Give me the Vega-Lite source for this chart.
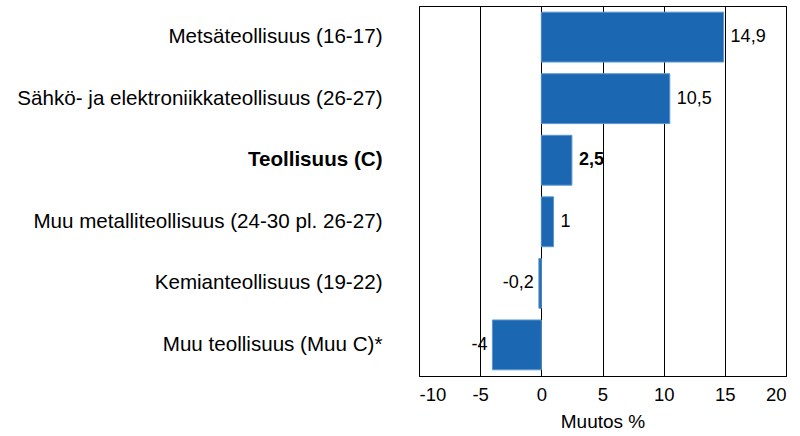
{
  "$schema": "https://vega.github.io/schema/vega-lite/v6.json",
  "autosize": "none",
  "width": 367,
  "height": 370,
  "padding": {"left": 419, "top": 6, "right": 14, "bottom": 60},
  "background": "white",
  "config": {
    "font": "Liberation Sans",
    "view": {"stroke": "black", "strokeWidth": 1},
    "locale": {"number": {"decimal": ",", "thousands": " ", "grouping": [3], "currency": ["", " €"], "minus": "-"}}
  },
  "data": {
    "values": [
      {"cat": "Metsäteollisuus (16-17)", "v": 14.9, "label": "14,9"},
      {"cat": "Sähkö- ja elektroniikkateollisuus (26-27)", "v": 10.5, "label": "10,5"},
      {"cat": "Teollisuus (C)", "v": 2.5, "label": "2,5"},
      {"cat": "Muu metalliteollisuus (24-30 pl. 26-27)", "v": 1, "label": "1"},
      {"cat": "Kemianteollisuus (19-22)", "v": -0.2, "label": "-0,2"},
      {"cat": "Muu teollisuus (Muu C)*", "v": -4, "label": "-4"}
    ]
  },
  "encoding": {
    "y": {
      "field": "cat", "type": "nominal", "sort": null,
      "scale": {"paddingInner": 0.19, "paddingOuter": 0.1},
      "axis": {
        "title": null, "domain": false, "ticks": false, "grid": false,
        "labelPadding": 37, "labelFontSize": 20.6, "labelColor": "black", "labelLimit": 420,
        "labelFontWeight": {"condition": {"test": "datum.value === 'Teollisuus (C)'", "value": "bold"}, "value": "normal"}
      }
    },
    "x": {
      "field": "v", "type": "quantitative",
      "scale": {"domain": [-10, 20], "nice": false, "zero": false},
      "axis": {
        "title": "Muutos %", "values": [-10, -5, 0, 5, 10, 15, 20],
        "grid": true, "gridColor": "black", "gridOpacity": 1, "gridWidth": 1,
        "domainColor": "black", "ticks": false, "labelPadding": 9,
        "labelFontSize": 18.5, "labelColor": "black",
        "titleFontSize": 19, "titleFontWeight": "normal", "titleColor": "black", "titlePadding": 9
      }
    }
  },
  "layer": [
    {"mark": {"type": "bar", "color": "#1b67b1", "stroke": "#5b97d2", "strokeWidth": 1}},
    {
      "transform": [{"filter": "datum.v >= 0 && datum.cat !== 'Teollisuus (C)'"}],
      "mark": {"type": "text", "align": "left", "baseline": "middle", "dx": 7, "fontSize": 18, "color": "black"},
      "encoding": {"text": {"field": "label"}}
    },
    {
      "transform": [{"filter": "datum.cat === 'Teollisuus (C)'"}],
      "mark": {"type": "text", "align": "left", "baseline": "middle", "dx": 7, "fontSize": 18, "fontWeight": "bold", "color": "black"},
      "encoding": {"text": {"field": "label"}}
    },
    {
      "transform": [{"filter": "datum.v < 0"}],
      "mark": {"type": "text", "align": "right", "baseline": "middle", "dx": -5, "fontSize": 18, "color": "black"},
      "encoding": {"text": {"field": "label"}}
    }
  ]
}
